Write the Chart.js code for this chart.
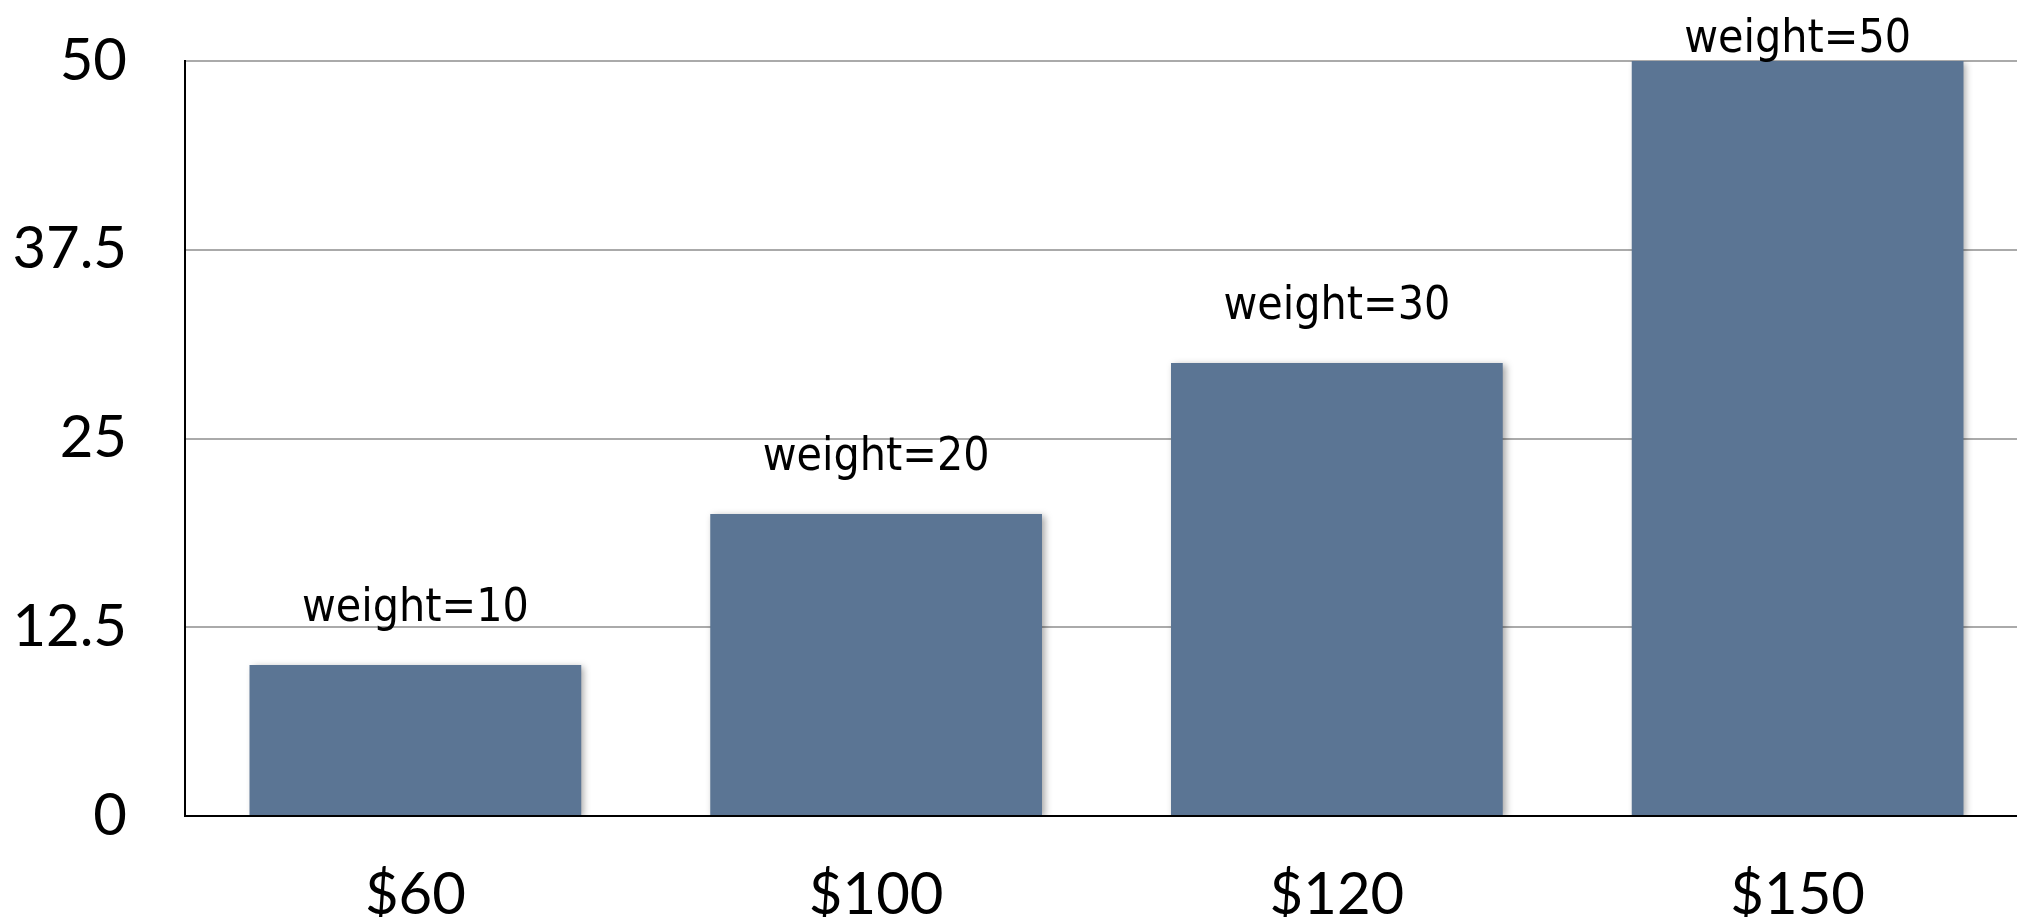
<!DOCTYPE html>
<html>
<head>
<meta charset="utf-8">
<script src="https://cdn.jsdelivr.net/npm/chart.js@4"></script>
<style>
    html, body { margin: 0; padding: 0; background: #fff; overflow: hidden; }
    #wrap { width: 2028px; height: 917px; }
</style>
</head>
<body>
<div id="wrap"><canvas id="barChart"></canvas></div>
<script>
// Chart data
var categories = ["$60", "$100", "$120", "$150"];
var weights = [10, 20, 30, 50];
var barLabels = ["weight=10", "weight=20", "weight=30", "weight=50"];
var yTicks = [0, 12.5, 25, 37.5, 50];

// Soft shadow behind the bars
var barShadow = {
    id: 'barShadow',
    beforeDatasetsDraw: function (chart) {
        var ctx = chart.ctx;
        ctx.save();
        ctx.shadowColor = 'rgba(0, 0, 0, 0.35)';
        ctx.shadowBlur = 7;
        ctx.shadowOffsetX = 3;
        ctx.shadowOffsetY = 2;
    },
    afterDatasetsDraw: function (chart) {
        chart.ctx.restore();
    }
};

// Text above each bar
var barText = {
    id: 'barText',
    afterDraw: function (chart) {
        var ctx = chart.ctx;
        var meta = chart.getDatasetMeta(0);
        ctx.save();
        ctx.font = '46px "DejaVu Sans Condensed", "DejaVu Sans", sans-serif';
        ctx.fillStyle = '#000';
        ctx.textAlign = 'center';
        ctx.textBaseline = 'alphabetic';
        meta.data.forEach(function (bar, i) {
            var y = Math.max(bar.y - 44, 52);
            ctx.fillText(barLabels[i], bar.x, y);
        });
        ctx.restore();
    }
};

document.addEventListener('DOMContentLoaded', function () {
    var ctx = document.getElementById('barChart').getContext('2d');
    var tickFont = { family: 'Lato, "Open Sans", sans-serif', size: 58 };

    new Chart(ctx, {
        type: 'bar',
        data: {
            labels: categories,
            datasets: [{
                data: weights,
                backgroundColor: '#5b7594',
                borderWidth: 0,
                barPercentage: 0.72,
                categoryPercentage: 1
            }]
        },
        options: {
            responsive: true,
            maintainAspectRatio: false,
            animation: false,
            layout: { padding: { top: 61, right: 0, bottom: 0, left: 0 } },
            plugins: {
                legend: { display: false },
                tooltip: { enabled: false }
            },
            scales: {
                x: {
                    grid: { display: false },
                    border: { display: true, color: '#000', width: 2 },
                    ticks: { color: '#000', font: tickFont, padding: 36, maxRotation: 0 },
                    afterFit: function (scale) { scale.height = 101; }
                },
                y: {
                    min: 0,
                    max: 50,
                    afterBuildTicks: function (scale) {
                        scale.ticks = yTicks.map(function (v) { return { value: v }; });
                    },
                    grid: { color: '#aaaaaa', lineWidth: 2, drawTicks: false },
                    border: { display: true, color: '#000', width: 2 },
                    ticks: { color: '#000', font: tickFont, padding: 58 },
                    afterFit: function (scale) {
                        scale.width = 185;
                        // tick padding would otherwise push the plot area down
                        scale.paddingTop = 0;
                        scale.paddingBottom = 0;
                    }
                }
            }
        },
        plugins: [barShadow, barText]
    });
});
</script>
</body>
</html>
